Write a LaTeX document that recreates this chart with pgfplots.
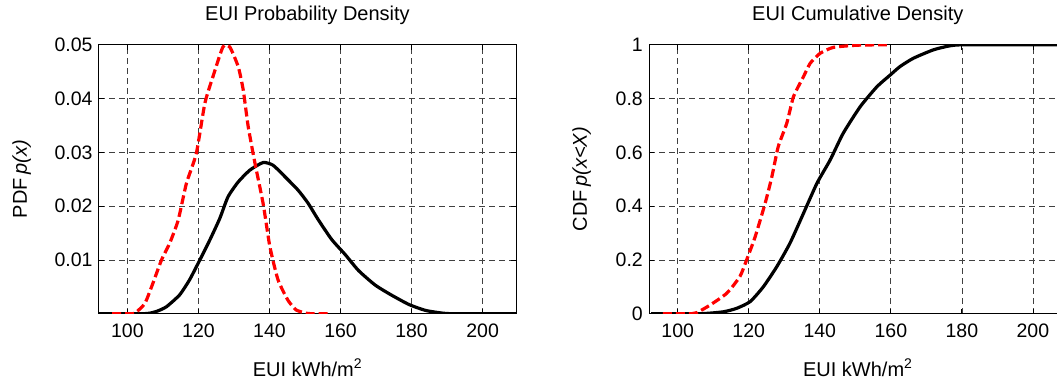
\documentclass[border=0pt]{standalone}
\usepackage{pgfplots}
\pgfplotsset{compat=1.18}
\usepackage{fontspec}
\setmainfont{Liberation Sans}
\begin{document}
\begin{tikzpicture}[x=1pt,y=1pt]
\pgfplotsset{
  eui/.style={
    anchor=south west, scale only axis, width=417pt, height=269pt,
    xmin=92, xmax=209.4, ymin=0,
    xtick={100,120,...,200},
    scaled y ticks=false,
    grid=major,
    grid style={dash pattern=on 6pt off 4pt, black!75, line width=0.7pt},
    tick align=inside, major tick length=5pt,
    axis line style={line width=1pt},
    tick style={black, line width=0.8pt},
    every tick label/.append style={font=\fontsize{19.5}{23}\selectfont},
    /pgf/number format/assume math mode=true,
    xticklabel style={yshift=-7pt},
    yticklabel style={xshift=-3pt},
    title style={font=\fontsize{20}{24}\selectfont, anchor=base, at={(axis description cs:0.5,1)}, yshift=18pt},
    xlabel style={font=\fontsize{20}{24}\selectfont, anchor=base, at={(axis description cs:0.5,0)}, yshift=-62.3pt},
    ylabel style={font=\fontsize{20}{24}\selectfont, anchor=center, rotate=0},
    xlabel={EUI kWh/m\textsuperscript{2}},
  },
  blkcurve/.style={black, line width=3.2pt, line join=round, smooth, tension=0.35},
  redcurve/.style={color=red, line width=3.2pt, dash pattern=on 9pt off 4pt, smooth, tension=0.35},
}
\begin{axis}[eui, at={(99pt,70.3pt)}, ymax=0.05,
  ytick={0.01,0.02,0.03,0.04,0.05},
  yticklabel style={/pgf/number format/fixed, /pgf/number format/fixed zerofill, /pgf/number format/precision=2},
  title={EUI Probability Density},
  ylabel={PDF\,\textit{p(x)}},
  ylabel style={at={(axis description cs:-0.1854,0.5)}},
]
\addplot[blkcurve] coordinates {
(92,0) (104,0) (106.3,0.0001) (108.5,0.0005) (111,0.0013) (114.7,0.0035)
(117.5,0.0063) (120.4,0.0100) (123.2,0.0137) (126,0.0177) (128.3,0.0217)
(131.2,0.0245) (134.5,0.0267) (138.2,0.0281) (141,0.0276) (144.3,0.0255)
(148,0.0230) (150.8,0.0206) (153.7,0.0175) (157.5,0.0138) (161.3,0.0110)
(165.1,0.0080) (169.8,0.0053) (174.5,0.0034) (179.3,0.0017) (184,0.0006)
(188.8,0.0001) (192,0) (209.4,0)
};
\addplot[redcurve] coordinates {
(95.7,0) (100.5,0) (102.1,0.0001) (104.9,0.0019) (107.2,0.0057) (109.6,0.0100)
(111.9,0.0131) (114.3,0.0174) (116.6,0.0242) (119.4,0.0298) (121.8,0.0391)
(124.1,0.0441) (126.9,0.0496) (128.8,0.0496) (131.2,0.0459) (132.6,0.0416)
(134,0.0348) (135.9,0.0280) (138.2,0.0205) (140.1,0.0125) (142.4,0.0063)
(145.2,0.0025) (147.5,0.0007) (150.3,0.0001) (152,0) (157,0)
};
\end{axis}
\begin{axis}[eui, at={(649.3pt,70.3pt)}, ymax=1,
  ytick={0,0.2,0.4,0.6,0.8,1},
  title={EUI Cumulative Density},
  ylabel={CDF\,\textit{p(x<X)}},
  ylabel style={at={(axis description cs:-0.1621,0.5)}},
]
\addplot[blkcurve] coordinates {
(92.5,0) (106.3,0) (112.8,0.007) (116.6,0.020) (120.4,0.045) (124.1,0.100)
(127.9,0.175) (131.6,0.262) (135.4,0.373) (139.2,0.485) (142.9,0.571)
(146.6,0.671) (151.4,0.770) (156.1,0.844) (159.8,0.887) (162.6,0.919)
(166.4,0.950) (172,0.981) (176.7,0.996) (181.5,1) (209.4,1)
};
\addplot[redcurve] coordinates {
(95.8,0) (104,0) (105.4,0.004) (109.1,0.032) (113.8,0.076) (117.5,0.138)
(119.4,0.200) (121.8,0.286) (124.6,0.410) (126.5,0.509) (128.3,0.621)
(130.7,0.708) (132.6,0.807) (135.4,0.881) (137.3,0.931) (140.1,0.968)
(143.8,0.990) (150.4,0.998) (158.9,1)
};
\end{axis}
\pgfresetboundingbox
\path (0,0) rectangle (1057,384);
\end{tikzpicture}
\end{document}
